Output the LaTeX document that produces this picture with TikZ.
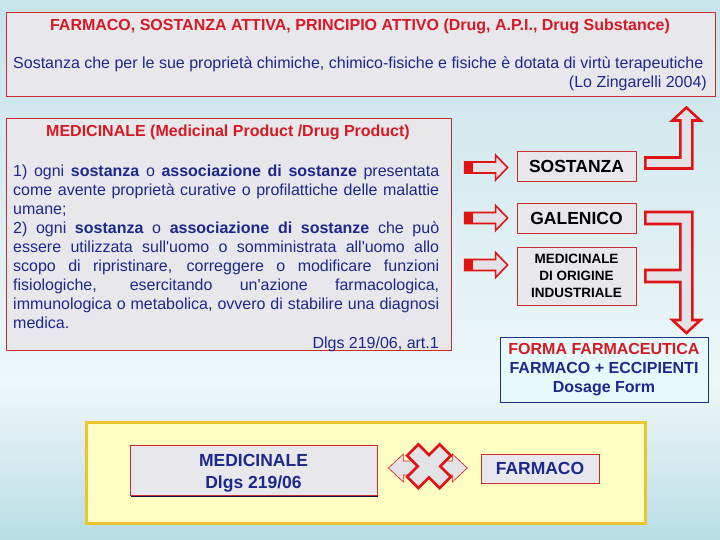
\documentclass[tikz,border=0pt]{standalone}
\usepackage{fontspec}
\setmainfont{Liberation Sans}
\newfontfamily\plainsans{Liberation Sans}
\usetikzlibrary{calc,shadows}

\definecolor{titred}{RGB}{215,25,35}
\definecolor{txtblue}{RGB}{28,40,140}
\definecolor{boxgray}{RGB}{232,232,236}
\definecolor{boxred}{RGB}{205,45,45}
\definecolor{arrred}{RGB}{225,20,20}
\definecolor{arrfill}{RGB}{226,226,231}
\definecolor{yelfill}{RGB}{255,255,196}
\definecolor{yeldraw}{RGB}{236,196,48}
\definecolor{formfill}{RGB}{230,250,252}
\definecolor{formdraw}{RGB}{30,50,130}
\definecolor{bgtop}{RGB}{198,228,234}
\definecolor{bgmid}{RGB}{238,247,249}
\definecolor{bgbot}{RGB}{184,222,229}

\tikzset{
  graybox/.style={draw=boxred, fill=boxgray, line width=0.8pt, inner sep=0pt},
  txt/.style={inner sep=0pt, font=\fontsize{16}{19}\selectfont},
  bigarrow/.style={draw=arrred, fill=arrfill, line width=2.6pt, line join=miter},
  smallarrow/.style={draw=arrred, fill=arrfill, line width=1.6pt, line join=miter},
}

\begin{document}
\begin{tikzpicture}[x=1pt,y=-1pt]
\shade[top color=bgtop, bottom color=bgmid] (0,0) rectangle (720,385);
\shade[top color=bgmid, bottom color=bgbot] (0,384.5) rectangle (720,540);
\useasboundingbox (0,0) rectangle (720,540);

\path (360.5,54) node[graybox, minimum width=709, minimum height=84] (drugbox) {}
      (360,31) node[txt, anchor=base, text=titred, font=\fontsize{16}{19}\selectfont\bfseries] (drugtitle)
        {FARMACO, SOSTANZA ATTIVA, PRINCIPIO ATTIVO (Drug, A.P.I., Drug Substance)}
      (13,69) node[txt, anchor=base west, text=txtblue] (drugdef)
        {Sostanza che per le sue proprietà chimiche, chimico-fisiche e fisiche è dotata di virtù terapeutiche}
      (707,88) node[txt, anchor=base east, text=txtblue] (drugref) {(Lo Zingarelli 2004)}
      (228.5,234) node[graybox, minimum width=445, minimum height=232] (medbox) {}
      (228,137) node[txt, anchor=base, text=titred, font=\fontsize{16}{19}\selectfont\bfseries] (medtitle)
        {MEDICINALE (Medicinal Product /Drug Product)}
      (13,177) node[txt, anchor=base west, text=txtblue, text width=426, align=justify,
        font=\plainsans\fontsize{16}{19}\selectfont] (meddef)
        {1) ogni \textbf{sostanza} o \textbf{associazione di sostanze} presentata\linebreak
         come avente proprietà curative o profilattiche delle malattie\linebreak
         umane;\\
         2) ogni \textbf{sostanza} o \textbf{associazione di sostanze} che può\linebreak
         essere utilizzata sull'uomo o somministrata all'uomo allo\linebreak
         scopo di ripristinare, correggere o modificare funzioni\linebreak
         fisiologiche, esercitando un'azione farmacologica,\linebreak
         immunologica o metabolica, ovvero di stabilire una diagnosi\linebreak
         medica.}
      (439,348) node[txt, anchor=base east, text=txtblue] (medref) {Dlgs 219/06, art.1}
      (576.5,166.5) node[graybox, minimum width=119, minimum height=30, font=\fontsize{17.5}{20}\selectfont\bfseries] (sost) {SOSTANZA}
      (576.5,218) node[graybox, minimum width=119, minimum height=30, font=\fontsize{17.5}{20}\selectfont\bfseries] (gal) {GALENICO}
      (576.5,276) node[graybox, minimum width=119, minimum height=58, align=center, font=\fontsize{13.5}{17}\selectfont\bfseries] (ind)
        {MEDICINALE\\DI ORIGINE\\INDUSTRIALE}
      (604,369.5) node[draw=formdraw, fill=formfill, line width=0.8pt, minimum width=208, minimum height=65, inner sep=0pt,
        align=center, text=txtblue, font=\fontsize{16}{19}\selectfont\bfseries] (forma)
        {\textcolor{titred}{FORMA FARMACEUTICA}\\FARMACO + ECCIPIENTI\\Dosage Form}
      (365.5,472.5) node[draw=yeldraw, fill=yelfill, line width=3pt, minimum width=559, minimum height=101] (yel) {}
      (253.5,470) node[graybox, minimum width=247, minimum height=50, align=center, text=txtblue,
        font=\fontsize{17.5}{22}\selectfont\bfseries,
        drop shadow={shadow xshift=1pt, shadow yshift=-2pt, opacity=1, fill=txtblue!50!black}] (med)
        {\rule{0pt}{19pt}MEDICINALE\\Dlgs 219/06}
      (540,468.5) node[graybox, minimum width=118, minimum height=29, text=txtblue, font=\fontsize{17.5}{20}\selectfont\bfseries] (farm) {FARMACO}
      ;

\foreach \t/\dy in {sost/1,gal/0,ind/-11}{
  \filldraw[smallarrow] ($(\t.west)+(-9,\dy)$) -- ++(-12,-12.5) -- ++(0,7) -- ++(-31,0) -- ++(0,11) -- ++(31,0) -- ++(0,7) -- cycle;
  \fill[arrred] ($(\t.west)+(-52,\dy-5.5)$) rectangle ++(8,11);
}

\filldraw[bigarrow] ($(sost.east)+(9,-9)$) -- ++(35,0) -- ++(0,-37) -- ++(-8,0) -- ++(14,-13) -- ++(14,13)
  -- ++(-8,0) -- ++(0,48) -- ++(-47,0) -- cycle;
\filldraw[bigarrow] ($(gal.east)+(9,-6)$) -- ++(47,0) -- ++(0,108) -- ++(8,0) -- ++(-14,13) -- ++(-14,-13)
  -- ++(8,0) -- ++(0,-38) -- ++(-35,0) -- ++(0,-12) -- ++(35,0) -- ++(0,-46) -- ++(-35,0) -- cycle;

\filldraw[draw=arrred, fill=arrfill, line width=0.6pt] ($(med.east)+(11,-2)$) -- ++(15,-14) -- ++(0,7) -- ++(49,0) -- ++(0,-7)
  -- ++(15,14) -- ++(-15,14) -- ++(0,-7) -- ++(-49,0) -- ++(0,7) -- cycle;
\coordinate (cross) at ($(med.east)!0.5!(farm.west)+(0,-3)$);
\filldraw[bigarrow, shift={(cross)}, rotate=45] (23,8) -- (8,8) -- (8,23) -- (-8,23) -- (-8,8) -- (-23,8) -- (-23,-8)
  -- (-8,-8) -- (-8,-23) -- (8,-23) -- (8,-8) -- (23,-8) -- cycle;
\end{tikzpicture}
\end{document}
